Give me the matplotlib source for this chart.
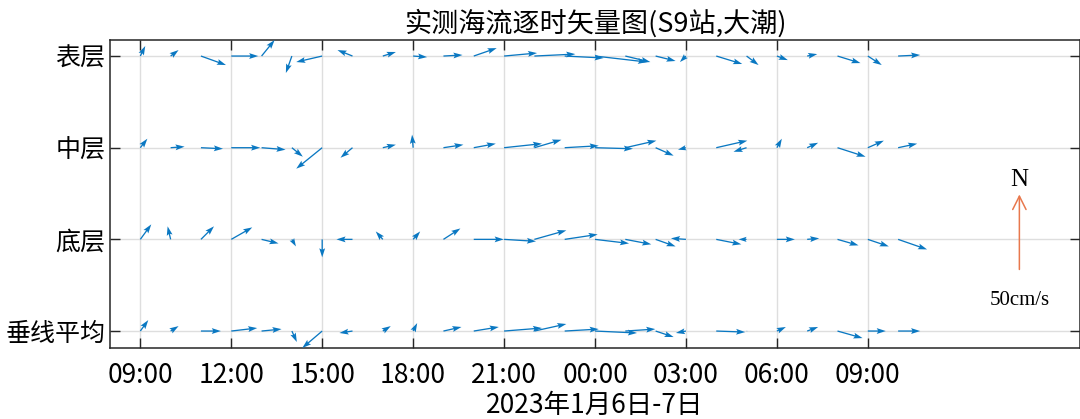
import matplotlib
matplotlib.use('Agg')
import matplotlib.pyplot as plt
import matplotlib.dates as mdates
import numpy as np
import pandas as pd

plt.rcParams['font.family'] = ['Noto Sans CJK SC', 'DejaVu Sans']
plt.rcParams['axes.unicode_minus'] = False

# hourly observation times (2023-01-06 09:00 .. 2023-01-07 10:00)
times = pd.date_range('2023-01-06 09:00', periods=26, freq='h')

layers = ['垂线平均', '底层', '中层', '表层']

# east (u) / north (v) components, cm/s
surf_u = [3.3, 5.3, 16.7, 18, 8.7, -4, -17.3, -10, 8.7, 9.3, 12.7, 15.3, 22,
          27.3, 26, 34.7, 16.7, 13.3, -4, 17.3, 8, 7.3, 6.7, 15.3, 9.3, 14.7]
surf_v = [6.7, 4, -6, 0, 10.7, -11.3, -4, 4, 2.7, -0.7, 0.7, 5.3, 2,
          1.3, -1.3, -4, -4, -3.3, -4, -5.3, -6, -2.7, 1.3, -4.7, -6, 0.7]

mid_u = [4.7, 9.3, 14.7, 19.3, 16, 7.3, -17.3, -8, 8.7, -0.7, 13.3, 14.7, 25.3,
         18, 22.7, 25.3, 20.7, 12, -5.3, 20.7, -8.7, 3.3, 7.3, 18.7, 10.7, 12.7]
mid_v = [6, 0.7, -0.7, 0, -1.3, -6, -14, -6.7, 2, 8.7, 2, 2.7, 2.7,
         5.3, 1.3, -0.7, 4.7, -5.3, -1.3, 4.7, -2.7, 6, 3.3, -6, 4.7, 2.7]

bot_u = [7.3, -2, 8.7, 14, 11.3, 2.7, 0, -10.7, -4.7, 4.7, 11.3, 20, 21.3,
         21.3, 22, 22.7, 17.3, 13.3, -10, 16.7, -5.3, 12, 8, 14, 14, 19.3]
bot_v = [10, 8.7, 8.7, 8, -2.7, -4.7, -12, 0, 5.3, 5.3, 7.3, 0, -1.3,
         6, 3.3, -2.7, -3.3, -4.7, 0.7, -3.3, 0, 0, 0.7, -4, -4.7, -6.7]

avg_u = [5.3, 5.3, 13.3, 17.3, 13.3, 3.3, -13.3, -8.7, 5.3, 2.7, 12, 16.7, 25.3,
         21.3, 22.7, 28, 20, 12, -6.7, 19.3, 0.7, 6, 7.3, 16.7, 12, 14.7]
avg_v = [7.3, 3.3, 0, 2, 1.3, -7.3, -11.3, -1.3, 3.3, 5.3, 2.7, 2.7, 2,
         4.7, 1.3, -1.3, 1.3, -4, -1.3, -0.7, 0, 2.7, 2.7, -4.7, 0, 0]

ref_speed = 50  # cm/s, scale arrow
px_per_cms = 1.5

xticks = pd.date_range('2023-01-06 09:00', '2023-01-07 09:00', freq='3h')

fig = plt.figure(figsize=(10.8, 4.19), dpi=100)
ax = fig.add_axes([110 / 1080, 1 - 348 / 419, 970 / 1080, 308 / 419])

x = mdates.date2num(times)
blue = '#0A78C2'
for row, (u, v) in enumerate([(avg_u, avg_v), (bot_u, bot_v),
                              (mid_u, mid_v), (surf_u, surf_v)], start=1):
    ax.quiver(x, np.full(len(x), row), u, v, color=blue,
              angles='uv', scale_units='dots', scale=1 / px_per_cms,
              units='dots', width=1.3, headwidth=4.5, headlength=7,
              headaxislength=6, minshaft=1, minlength=0.3, zorder=3)

# scale arrow (north, 50 cm/s): head position, tail offset below it
sx = mdates.date2num(pd.Timestamp('2023-01-07 14:00'))
head_y = 2.49
ax.annotate('', xy=(sx, head_y), xycoords='data',
            xytext=(0, -ref_speed * px_per_cms), textcoords='offset pixels',
            zorder=3,
            arrowprops=dict(arrowstyle='->', color='#E8784D', lw=1.1,
                            shrinkA=0, shrinkB=0, mutation_scale=24))
ax.text(sx, 2.65, 'N', ha='center', va='center', fontsize=18,
        family='Liberation Serif')
ax.text(sx, 1.33, '50cm/s', ha='center', va='center', fontsize=15,
        family='Liberation Serif')

ax.set_xlim(mdates.date2num(pd.Timestamp('2023-01-06 08:00')),
            mdates.date2num(pd.Timestamp('2023-01-07 16:00')))
ax.set_ylim(0.815, 4.175)
ax.set_xticks(mdates.date2num(xticks))
ax.xaxis.set_major_formatter(mdates.DateFormatter('%H:%M'))
ax.set_yticks([1, 2, 3, 4])
ax.set_yticklabels(layers, fontsize=18)
ax.tick_params(axis='x', labelsize=19, pad=10)
ax.tick_params(direction='in', length=7, width=1, top=True, right=True,
               color='#262626')
ax.grid(True, color='#dedede', lw=1)
ax.set_axisbelow(True)
for s in ax.spines.values():
    s.set_color('#262626')
    s.set_linewidth(1.1)

ax.set_title('实测海流逐时矢量图(S9站,大潮)', fontsize=19.5, pad=6)
ax.set_xlabel('2023年1月6日-7日', fontsize=19, labelpad=2)

fig.savefig('out.png', dpi=100)
